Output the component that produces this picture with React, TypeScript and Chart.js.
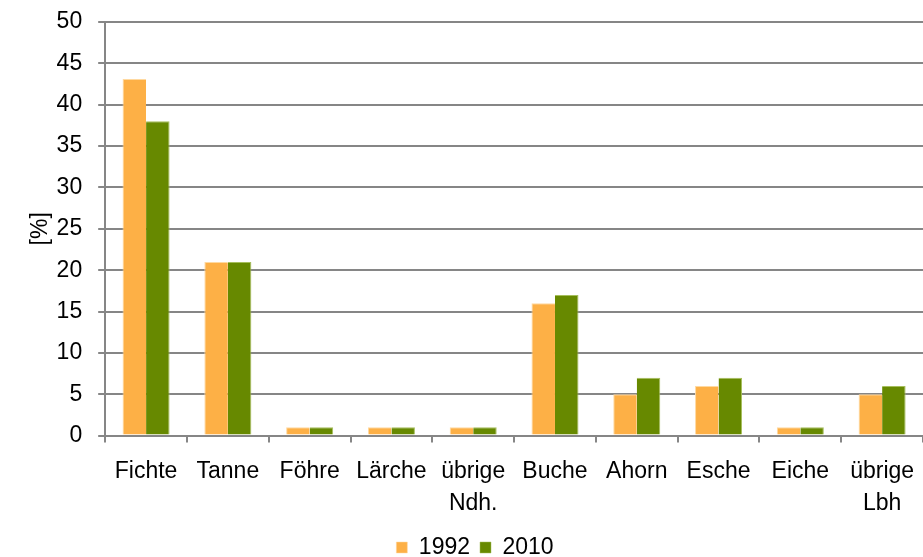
import React, { useEffect, useRef } from "react";
import { Chart, registerables } from "chart.js";

Chart.register(...registerables);

const categories: (string | string[])[] = [
  "Fichte",
  "Tanne",
  "Föhre",
  "Lärche",
  ["übrige", "Ndh."],
  "Buche",
  "Ahorn",
  "Esche",
  "Eiche",
  ["übrige", "Lbh"],
];
const values1992 = [43.1, 21, 1, 1, 1, 16, 5, 6, 1, 5];
const values2010 = [38, 21, 1, 1, 1, 17, 7, 7, 1, 6];
const yTicks = [0, 5, 10, 15, 20, 25, 30, 35, 40, 45, 50];

export default function App() {
  const ref = useRef<HTMLCanvasElement>(null);
  useEffect(() => {
    document.body.style.margin = "0";
    const ctx = ref.current!;
    const family = "'Liberation Sans', Arial, sans-serif";
    const font = { family, size: 23, lineHeight: 1.2 };
    const xFont = { family, size: 23, lineHeight: 1.4 };
    const chart = new Chart(ctx, {
      type: "bar",
      data: {
        labels: categories,
        datasets: [
          {
            label: "1992",
            data: values1992,
            backgroundColor: "#FDB046",
            borderColor: "#FFD9A0",
            borderWidth: { top: 1, left: 1, right: 0, bottom: 0 },
          },
          {
            label: "2010",
            data: values2010,
            backgroundColor: "#678900",
            borderColor: "#A6BE5C",
            borderWidth: { top: 1, left: 0, right: 1, bottom: 0 },
          },
        ],
      },
      options: {
        animation: false,
        responsive: false,
        maintainAspectRatio: false,
        layout: { padding: { top: 22, right: 0, left: 27, bottom: -12 } },
        datasets: { bar: { categoryPercentage: 0.575, barPercentage: 1 } },
        plugins: {
          tooltip: { enabled: false },
          legend: {
            position: "bottom",
            labels: {
              font,
              color: "#000",
              boxWidth: 11,
              boxHeight: 11,
              padding: 10,
            },
          },
        },
        scales: {
          x: {
            grid: {
              offset: true,
              drawOnChartArea: false,
              tickLength: 7,
              color: "#868686",
              lineWidth: 2,
            },
            border: { color: "#868686", width: 2 },
            ticks: { font: xFont, color: "#000", maxRotation: 0, autoSkip: false, padding: 13 },
            afterFit: (axis: any) => {
              axis.height -= 7;
              axis.paddingLeft = 0;
              axis.paddingRight = 0;
            },
          },
          y: {
            min: 0,
            max: 50,
            afterBuildTicks: (axis: any) => {
              axis.ticks = yTicks.map((v) => ({ value: v }));
            },
            afterFit: (axis: any) => {
              axis.paddingTop = 0;
              axis.paddingBottom = 0;
            },
            grid: { color: "#868686", lineWidth: 2, tickLength: 7 },
            border: { color: "#868686", width: 2 },
            ticks: { font, color: "#000", padding: 16 },
            title: {
              display: true,
              text: "[%]",
              font,
              color: "#000",
              padding: { top: 0, bottom: -14 },
            },
          },
        },
      },
    });
    return () => chart.destroy();
  }, []);
  return (
    <div style={{ width: 923, height: 557 }}>
      <canvas ref={ref} width={923} height={557} style={{ display: "block" }} />
    </div>
  );
}
